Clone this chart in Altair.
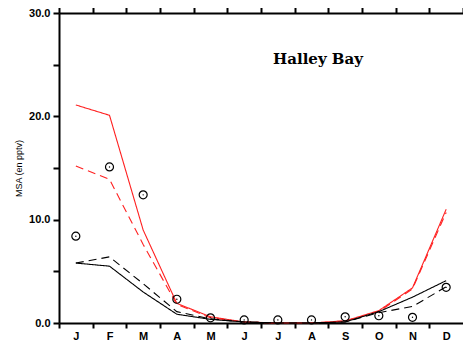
import altair as alt
import pandas as pd

months = ["J", "F", "M", "A", "M", "J", "J", "A", "S", "O", "N", "D"]
red_solid = [21.1, 20.1, 9.0, 1.9, 0.6, 0.1, 0.0, 0.0, 0.2, 1.2, 3.4, 11.0]
red_dashed = [15.2, 13.9, 7.6, 1.8, 0.5, 0.1, 0.0, 0.0, 0.2, 1.1, 3.3, 10.7]
black_solid = [5.8, 5.5, 3.0, 0.85, 0.35, 0.1, 0.0, 0.0, 0.1, 1.1, 2.5, 4.1]
black_dashed = [5.8, 6.4, 3.8, 1.1, 0.4, 0.1, 0.0, 0.0, 0.1, 1.0, 1.6, 3.5]
observed = [8.4, 15.1, 12.4, 2.3, 0.5, 0.3, 0.3, 0.3, 0.6, 0.7, 0.55, 3.45]

series = {
    "red_solid": red_solid,
    "red_dashed": red_dashed,
    "black_solid": black_solid,
    "black_dashed": black_dashed,
}
rows = []
for name, vals in series.items():
    for i, v in enumerate(vals):
        rows.append({"m": i, "v": v, "s": name})
lines_df = pd.DataFrame(rows)
obs_df = pd.DataFrame({"m": list(range(12)), "v": observed})

xscale = alt.Scale(domain=[-0.5, 11.5], nice=False, zero=False)
yscale = alt.Scale(domain=[0, 30], nice=False)
label_expr = "['J','F','M','A','M','J','J','A','S','O','N','D'][datum.value]"

yaxis = alt.Axis(
    values=[0, 5, 10, 15, 20, 25, 30],
    labelExpr="datum.value % 10 == 0 ? format(datum.value, '.1f') : ''",
    title="MSA (en pptv)", titleFontSize=9, titleFontWeight="normal",
    titleFont="Liberation Sans", titlePadding=5,
    labelFont="Liberation Sans", labelFontWeight="bold", labelFontSize=11,
    labelColor="black", tickColor="black", domainColor="black",
    tickSize=6, tickWidth=2, domainWidth=2, labelPadding=3, grid=False,
)

lines = alt.Chart(lines_df).mark_line(strokeWidth=1.1).encode(
    x=alt.X("m:Q", scale=xscale, axis=alt.Axis(
        orient="bottom", values=list(range(12)), labelExpr=label_expr,
        tickOffset=-17, labelOffset=17, title=None, grid=False,
        labelFont="Liberation Sans", labelFontWeight="bold", labelFontSize=11,
        labelColor="black", tickColor="black", domainColor="black",
        tickSize=5, tickWidth=2, domainWidth=2, labelPadding=2)),
    y=alt.Y("v:Q", scale=yscale, axis=yaxis),
    color=alt.Color("s:N", scale=alt.Scale(
        domain=["red_solid", "red_dashed", "black_solid", "black_dashed"],
        range=["#ff2020", "#ff2020", "#000000", "#000000"]), legend=None),
    strokeDash=alt.StrokeDash("s:N", scale=alt.Scale(
        domain=["red_solid", "red_dashed", "black_solid", "black_dashed"],
        range=[[1, 0], [8, 5], [1, 0], [8, 5]]), legend=None),
    detail="s:N",
)

circles = alt.Chart(obs_df).mark_point(
    shape="circle", size=64, filled=False, color="black", strokeWidth=1.2, opacity=1
).encode(
    x=alt.X("m:Q", scale=xscale, axis=alt.Axis(
        orient="top", values=[i - 0.5 for i in range(13)], labels=False,
        title=None, grid=False, tickColor="black", domainColor="black",
        tickSize=6, tickWidth=2, domainWidth=2)),
    y=alt.Y("v:Q", scale=yscale, axis=yaxis),
)

dots = alt.Chart(obs_df).mark_circle(size=2, color="black", opacity=1).encode(
    x=alt.X("m:Q", scale=xscale, axis=None),
    y=alt.Y("v:Q", scale=yscale, axis=yaxis),
)

title = alt.Chart(pd.DataFrame({"t": ["Halley Bay"]})).mark_text(
    font="DejaVu Serif", fontWeight="bold", fontSize=15, color="black", align="center"
).encode(x=alt.value(259), y=alt.value(46), text="t:N")

chart = alt.layer(lines, circles, dots, title).resolve_axis(x="independent").properties(
    width=404, height=310,
    autosize=alt.AutoSizeParams(type="none"),
    padding={"left": 51, "top": 5, "right": 0, "bottom": 17},
).configure_view(stroke=None)

chart.save("out.html", embed_options={"renderer": "svg", "actions": False})
